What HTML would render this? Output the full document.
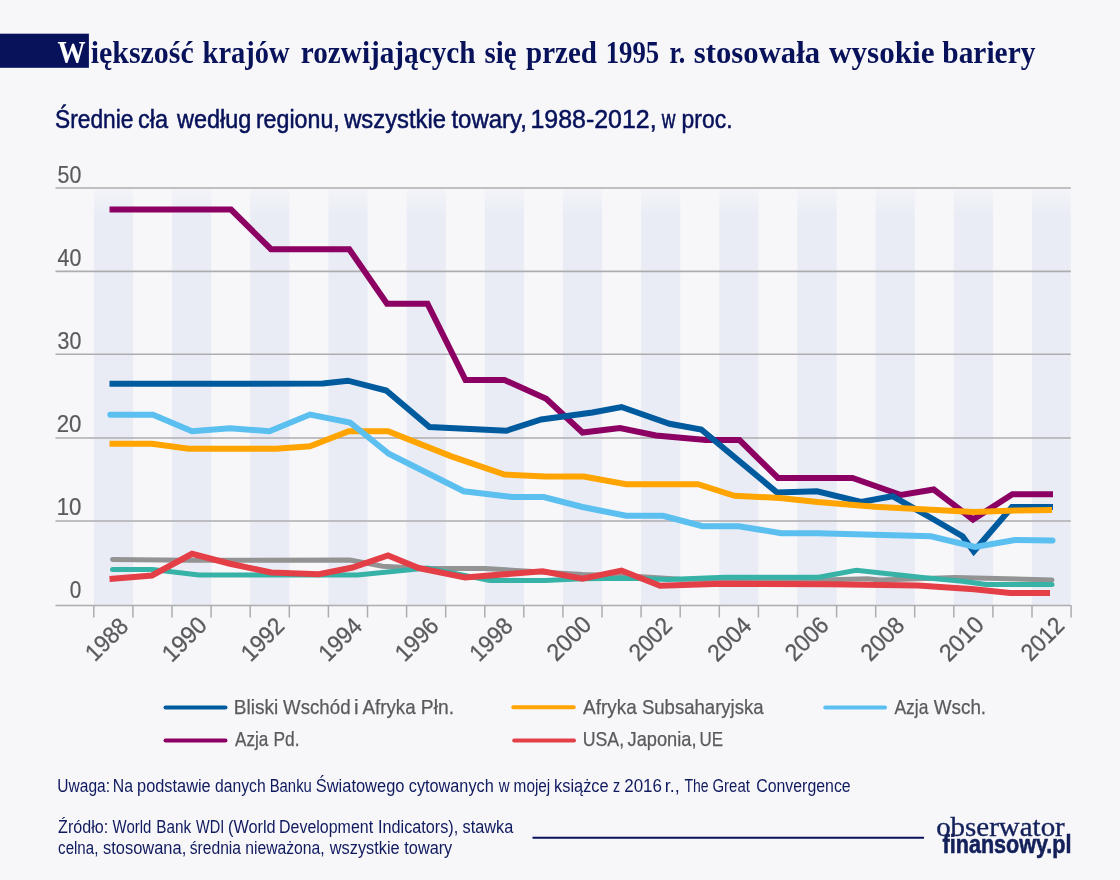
<!DOCTYPE html>
<html lang="pl"><head><meta charset="utf-8"><title>Większość krajów rozwijających się przed 1995 r. stosowała wysokie bariery</title>
<style>
html,body{margin:0;padding:0;background:#f7f7fa;}
body{width:1120px;height:880px;overflow:hidden;}
svg{display:block;}
.sans{font-family:"Liberation Sans",sans-serif;}
.serif{font-family:"Liberation Serif",serif;}
</style></head><body>
<svg width="1120" height="880" viewBox="0 0 1120 880">
<defs><linearGradient id="sg" x1="0" y1="0" x2="0" y2="1" gradientUnits="objectBoundingBox">
<stop offset="0" stop-color="#e9ecf5" stop-opacity="0.25"/><stop offset="0.065" stop-color="#e9ecf5" stop-opacity="1"/><stop offset="1" stop-color="#e9ecf5" stop-opacity="1"/>
</linearGradient></defs>
<rect x="0" y="0" width="1120" height="880" fill="#f7f7fa"/>
<rect x="0" y="33.7" width="88.9" height="34.1" fill="#07125a"/>
<text class="serif" y="62.6" font-size="30.8" font-weight="700" fill="#07125a"><tspan x="57.50" textLength="28.11" lengthAdjust="spacingAndGlyphs" fill="#ffffff">W</tspan><tspan x="90.70" textLength="103.05" lengthAdjust="spacingAndGlyphs">iększość</tspan> <tspan x="202.60" textLength="87.00" lengthAdjust="spacingAndGlyphs">krajów</tspan> <tspan x="300.80" textLength="174.72" lengthAdjust="spacingAndGlyphs">rozwijających</tspan> <tspan x="484.60" textLength="32.03" lengthAdjust="spacingAndGlyphs">się</tspan> <tspan x="526.00" textLength="70.92" lengthAdjust="spacingAndGlyphs">przed</tspan> <tspan x="605.76" textLength="53.48" lengthAdjust="spacingAndGlyphs">1995</tspan> <tspan x="669.60" textLength="15.59" lengthAdjust="spacingAndGlyphs">r.</tspan> <tspan x="693.80" textLength="126.30" lengthAdjust="spacingAndGlyphs">stosowała</tspan> <tspan x="828.90" textLength="105.68" lengthAdjust="spacingAndGlyphs">wysokie</tspan> <tspan x="942.30" textLength="93.13" lengthAdjust="spacingAndGlyphs">bariery</tspan></text>
<text class="sans" y="127.5" font-size="25.3" font-weight="400" fill="#07125a" stroke="#07125a" stroke-width="0.5"><tspan x="55.10" textLength="78.36" lengthAdjust="spacingAndGlyphs">Średnie</tspan> <tspan x="138.07" textLength="30.06" lengthAdjust="spacingAndGlyphs">cła</tspan> <tspan x="176.93" textLength="74.46" lengthAdjust="spacingAndGlyphs">według</tspan> <tspan x="255.88" textLength="83.88" lengthAdjust="spacingAndGlyphs">regionu,</tspan> <tspan x="344.14" textLength="101.86" lengthAdjust="spacingAndGlyphs">wszystkie</tspan> <tspan x="451.40" textLength="75.52" lengthAdjust="spacingAndGlyphs">towary,</tspan> <tspan x="530.41" textLength="126.19" lengthAdjust="spacingAndGlyphs">1988-2012,</tspan> <tspan x="661.75" textLength="13.70" lengthAdjust="spacingAndGlyphs">w</tspan> <tspan x="681.59" textLength="50.94" lengthAdjust="spacingAndGlyphs">proc.</tspan></text>
<rect x="93.9" y="189" width="39.2" height="416.3" fill="url(#sg)"/>
<rect x="172.1" y="189" width="39.2" height="416.3" fill="url(#sg)"/>
<rect x="250.2" y="189" width="39.2" height="416.3" fill="url(#sg)"/>
<rect x="328.4" y="189" width="39.2" height="416.3" fill="url(#sg)"/>
<rect x="406.6" y="189" width="39.2" height="416.3" fill="url(#sg)"/>
<rect x="484.8" y="189" width="39.2" height="416.3" fill="url(#sg)"/>
<rect x="562.9" y="189" width="39.2" height="416.3" fill="url(#sg)"/>
<rect x="641.1" y="189" width="39.2" height="416.3" fill="url(#sg)"/>
<rect x="719.3" y="189" width="39.2" height="416.3" fill="url(#sg)"/>
<rect x="797.4" y="189" width="39.2" height="416.3" fill="url(#sg)"/>
<rect x="875.6" y="189" width="39.2" height="416.3" fill="url(#sg)"/>
<rect x="953.8" y="189" width="39.2" height="416.3" fill="url(#sg)"/>
<rect x="1031.9" y="189" width="38.7" height="416.3" fill="url(#sg)"/>
<line x1="55.5" y1="188.00" x2="1070.8" y2="188.00" stroke="#adadaf" stroke-width="1.55"/>
<text class="sans" y="182.9" font-size="23.9" font-weight="400" fill="#5a5a5c" stroke="#5a5a5c" stroke-width="0.2"><tspan x="57.60" textLength="23.76" lengthAdjust="spacingAndGlyphs">50</tspan></text>
<line x1="55.5" y1="271.35" x2="1070.8" y2="271.35" stroke="#adadaf" stroke-width="1.55"/>
<text class="sans" y="266.0" font-size="23.9" font-weight="400" fill="#5a5a5c" stroke="#5a5a5c" stroke-width="0.2"><tspan x="57.60" textLength="23.76" lengthAdjust="spacingAndGlyphs">40</tspan></text>
<line x1="55.5" y1="354.30" x2="1070.8" y2="354.30" stroke="#adadaf" stroke-width="1.55"/>
<text class="sans" y="349.1" font-size="23.9" font-weight="400" fill="#5a5a5c" stroke="#5a5a5c" stroke-width="0.2"><tspan x="57.60" textLength="23.76" lengthAdjust="spacingAndGlyphs">30</tspan></text>
<line x1="55.5" y1="438.00" x2="1070.8" y2="438.00" stroke="#adadaf" stroke-width="1.55"/>
<text class="sans" y="432.2" font-size="23.9" font-weight="400" fill="#5a5a5c" stroke="#5a5a5c" stroke-width="0.2"><tspan x="56.67" textLength="24.70" lengthAdjust="spacingAndGlyphs">20</tspan></text>
<line x1="55.5" y1="521.00" x2="1070.8" y2="521.00" stroke="#adadaf" stroke-width="1.55"/>
<text class="sans" y="515.3" font-size="23.9" font-weight="400" fill="#5a5a5c" stroke="#5a5a5c" stroke-width="0.2"><tspan x="56.67" textLength="24.70" lengthAdjust="spacingAndGlyphs">10</tspan></text>
<line x1="55.5" y1="605.40" x2="1070.8" y2="605.40" stroke="#adadaf" stroke-width="1.55"/>
<text class="sans" y="598.4" font-size="23.9" font-weight="400" fill="#5a5a5c" stroke="#5a5a5c" stroke-width="0.2"><tspan x="69.80" textLength="11.55" lengthAdjust="spacingAndGlyphs">0</tspan></text>
<line x1="93.8" y1="605.3" x2="93.8" y2="617.5" stroke="#adadaf" stroke-width="1.5"/>
<line x1="132.9" y1="605.3" x2="132.9" y2="617.5" stroke="#adadaf" stroke-width="1.5"/>
<line x1="172.0" y1="605.3" x2="172.0" y2="617.5" stroke="#adadaf" stroke-width="1.5"/>
<line x1="211.1" y1="605.3" x2="211.1" y2="617.5" stroke="#adadaf" stroke-width="1.5"/>
<line x1="250.2" y1="605.3" x2="250.2" y2="617.5" stroke="#adadaf" stroke-width="1.5"/>
<line x1="289.3" y1="605.3" x2="289.3" y2="617.5" stroke="#adadaf" stroke-width="1.5"/>
<line x1="328.4" y1="605.3" x2="328.4" y2="617.5" stroke="#adadaf" stroke-width="1.5"/>
<line x1="367.5" y1="605.3" x2="367.5" y2="617.5" stroke="#adadaf" stroke-width="1.5"/>
<line x1="406.6" y1="605.3" x2="406.6" y2="617.5" stroke="#adadaf" stroke-width="1.5"/>
<line x1="445.7" y1="605.3" x2="445.7" y2="617.5" stroke="#adadaf" stroke-width="1.5"/>
<line x1="484.8" y1="605.3" x2="484.8" y2="617.5" stroke="#adadaf" stroke-width="1.5"/>
<line x1="523.8" y1="605.3" x2="523.8" y2="617.5" stroke="#adadaf" stroke-width="1.5"/>
<line x1="562.9" y1="605.3" x2="562.9" y2="617.5" stroke="#adadaf" stroke-width="1.5"/>
<line x1="602.0" y1="605.3" x2="602.0" y2="617.5" stroke="#adadaf" stroke-width="1.5"/>
<line x1="641.1" y1="605.3" x2="641.1" y2="617.5" stroke="#adadaf" stroke-width="1.5"/>
<line x1="680.2" y1="605.3" x2="680.2" y2="617.5" stroke="#adadaf" stroke-width="1.5"/>
<line x1="719.3" y1="605.3" x2="719.3" y2="617.5" stroke="#adadaf" stroke-width="1.5"/>
<line x1="758.4" y1="605.3" x2="758.4" y2="617.5" stroke="#adadaf" stroke-width="1.5"/>
<line x1="797.5" y1="605.3" x2="797.5" y2="617.5" stroke="#adadaf" stroke-width="1.5"/>
<line x1="836.6" y1="605.3" x2="836.6" y2="617.5" stroke="#adadaf" stroke-width="1.5"/>
<line x1="875.7" y1="605.3" x2="875.7" y2="617.5" stroke="#adadaf" stroke-width="1.5"/>
<line x1="914.7" y1="605.3" x2="914.7" y2="617.5" stroke="#adadaf" stroke-width="1.5"/>
<line x1="953.8" y1="605.3" x2="953.8" y2="617.5" stroke="#adadaf" stroke-width="1.5"/>
<line x1="992.9" y1="605.3" x2="992.9" y2="617.5" stroke="#adadaf" stroke-width="1.5"/>
<line x1="1032.0" y1="605.3" x2="1032.0" y2="617.5" stroke="#adadaf" stroke-width="1.5"/>
<line x1="1071.1" y1="605.3" x2="1071.1" y2="617.5" stroke="#adadaf" stroke-width="1.5"/>
<text class="sans" transform="translate(129.77,627.77) rotate(-45)" x="0" y="0" font-size="24" fill="#5a5a5c" stroke="#5a5a5c" stroke-width="0.3" text-anchor="end" textLength="49.21" lengthAdjust="spacingAndGlyphs">1988</text>
<text class="sans" transform="translate(208.38,626.69) rotate(-45)" x="0" y="0" font-size="24" fill="#5a5a5c" stroke="#5a5a5c" stroke-width="0.3" text-anchor="end" textLength="51.77" lengthAdjust="spacingAndGlyphs">1990</text>
<text class="sans" transform="translate(285.85,627.44) rotate(-45)" x="0" y="0" font-size="24" fill="#5a5a5c" stroke="#5a5a5c" stroke-width="0.3" text-anchor="end" textLength="49.81" lengthAdjust="spacingAndGlyphs">1992</text>
<text class="sans" transform="translate(363.44,627.60) rotate(-45)" x="0" y="0" font-size="24" fill="#5a5a5c" stroke="#5a5a5c" stroke-width="0.3" text-anchor="end" textLength="49.75" lengthAdjust="spacingAndGlyphs">1994</text>
<text class="sans" transform="translate(440.27,627.26) rotate(-45)" x="0" y="0" font-size="24" fill="#5a5a5c" stroke="#5a5a5c" stroke-width="0.3" text-anchor="end" textLength="50.36" lengthAdjust="spacingAndGlyphs">1996</text>
<text class="sans" transform="translate(514.32,627.59) rotate(-45)" x="0" y="0" font-size="24" fill="#5a5a5c" stroke="#5a5a5c" stroke-width="0.3" text-anchor="end" textLength="49.58" lengthAdjust="spacingAndGlyphs">1998</text>
<text class="sans" transform="translate(592.86,625.84) rotate(-45)" x="0" y="0" font-size="24" fill="#5a5a5c" stroke="#5a5a5c" stroke-width="0.3" text-anchor="end" textLength="51.56" lengthAdjust="spacingAndGlyphs">2000</text>
<text class="sans" transform="translate(673.58,627.23) rotate(-45)" x="0" y="0" font-size="24" fill="#5a5a5c" stroke="#5a5a5c" stroke-width="0.3" text-anchor="end" textLength="49.41" lengthAdjust="spacingAndGlyphs">2002</text>
<text class="sans" transform="translate(752.84,627.01) rotate(-45)" x="0" y="0" font-size="24" fill="#5a5a5c" stroke="#5a5a5c" stroke-width="0.3" text-anchor="end" textLength="50.51" lengthAdjust="spacingAndGlyphs">2004</text>
<text class="sans" transform="translate(830.20,626.75) rotate(-45)" x="0" y="0" font-size="24" fill="#5a5a5c" stroke="#5a5a5c" stroke-width="0.3" text-anchor="end" textLength="50.19" lengthAdjust="spacingAndGlyphs">2006</text>
<text class="sans" transform="translate(905.75,626.99) rotate(-45)" x="0" y="0" font-size="24" fill="#5a5a5c" stroke="#5a5a5c" stroke-width="0.3" text-anchor="end" textLength="50.00" lengthAdjust="spacingAndGlyphs">2008</text>
<text class="sans" transform="translate(985.51,626.19) rotate(-45)" x="0" y="0" font-size="24" fill="#5a5a5c" stroke="#5a5a5c" stroke-width="0.3" text-anchor="end" textLength="51.78" lengthAdjust="spacingAndGlyphs">2010</text>
<text class="sans" transform="translate(1065.93,626.99) rotate(-45)" x="0" y="0" font-size="24" fill="#5a5a5c" stroke="#5a5a5c" stroke-width="0.3" text-anchor="end" textLength="49.90" lengthAdjust="spacingAndGlyphs">2012</text>
<polyline fill="none" stroke="#939393" stroke-width="5" stroke-linecap="round" stroke-linejoin="miter" stroke-miterlimit="10" points="112.50,559.50 190.00,560.25 350.00,560.00 382.50,566.25 425.00,568.50 485.00,568.50 582.50,574.50 642.00,576.80 680.00,579.20 822.00,580.00 867.50,578.75 880.00,580.00 955.00,577.50 1052.00,580.00"/>
<polyline fill="none" stroke="#36b2a6" stroke-width="5" stroke-linecap="round" stroke-linejoin="miter" stroke-miterlimit="10" points="112.50,569.50 152.50,569.50 198.75,575.00 357.50,575.00 427.50,568.00 490.00,580.50 545.00,580.50 582.50,578.75 630.00,578.20 667.50,579.50 725.00,577.20 818.75,577.20 856.25,570.25 922.50,577.50 962.50,581.25 986.00,584.50 1052.00,584.50"/>
<polyline fill="none" stroke="#8b0062" stroke-width="6" stroke-linecap="square" stroke-linejoin="miter" stroke-miterlimit="10" points="112.50,209.50 231.00,209.50 271.00,249.25 349.25,249.25 387.00,303.75 427.50,303.75 465.50,380.00 504.50,380.00 546.25,398.75 582.50,432.50 620.00,428.00 656.00,435.50 706.00,440.00 739.50,440.00 778.00,478.00 852.50,478.00 901.00,495.00 933.75,489.50 973.00,519.50 1012.40,494.25 1050.00,494.25"/>
<polyline fill="none" stroke="#005a9e" stroke-width="6" stroke-linecap="square" stroke-linejoin="miter" stroke-miterlimit="10" points="112.50,383.75 322.90,383.60 347.90,380.70 386.25,390.50 429.50,427.00 506.25,430.75 541.25,419.50 592.50,412.50 621.50,407.00 669.50,423.75 701.25,429.50 777.00,492.50 817.00,491.25 861.00,502.00 892.50,496.25 932.50,518.75 962.50,536.25 973.75,551.50 1012.00,507.00 1050.00,507.00"/>
<polyline fill="none" stroke="#ffa400" stroke-width="6" stroke-linecap="square" stroke-linejoin="miter" stroke-miterlimit="10" points="112.50,443.75 152.00,443.75 188.75,448.75 276.00,448.75 310.00,446.25 348.75,431.25 388.00,431.25 451.40,456.40 504.50,474.50 545.00,476.50 583.75,476.50 626.00,484.25 698.00,484.25 734.50,495.75 780.00,498.00 817.50,502.00 875.00,506.75 973.75,512.00 1015.00,510.50 1049.00,510.00"/>
<polyline fill="none" stroke="#5bbff0" stroke-width="6" stroke-linecap="round" stroke-linejoin="miter" stroke-miterlimit="10" points="110.30,414.75 153.00,414.75 192.00,431.25 230.00,428.25 269.50,431.25 310.00,414.50 350.00,422.50 388.75,453.75 463.75,491.25 512.50,497.00 543.75,497.00 582.50,507.00 626.00,515.75 663.00,515.75 702.50,526.25 738.75,526.25 781.25,533.25 817.50,533.25 931.00,536.25 975.00,547.00 1015.00,540.00 1052.50,540.50"/>
<polyline fill="none" stroke="#e43e47" stroke-width="6" stroke-linecap="square" stroke-linejoin="miter" stroke-miterlimit="10" points="112.50,578.75 152.00,575.50 192.00,553.75 230.00,563.75 271.25,572.50 318.75,574.25 352.50,567.50 388.00,555.50 418.75,568.00 465.00,577.50 542.50,571.25 582.50,578.75 621.50,570.50 660.00,585.75 722.50,583.75 830.00,584.20 918.00,585.60 974.00,589.20 1010.00,593.00 1047.00,593.00"/>
<line x1="165.5" y1="707.5" x2="225.5" y2="707.5" stroke="#005a9e" stroke-width="4" stroke-linecap="round"/>
<text class="sans" y="713.6" font-size="20.8" font-weight="400" fill="#5a5a5c" stroke="#5a5a5c" stroke-width="0.25"><tspan x="233.79" textLength="44.38" lengthAdjust="spacingAndGlyphs">Bliski</tspan> <tspan x="283.10" textLength="67.41" lengthAdjust="spacingAndGlyphs">Wschód</tspan> <tspan x="353.90" textLength="4.62" lengthAdjust="spacingAndGlyphs">i</tspan> <tspan x="362.40" textLength="53.21" lengthAdjust="spacingAndGlyphs">Afryka</tspan> <tspan x="420.87" textLength="33.17" lengthAdjust="spacingAndGlyphs">Płn.</tspan></text>
<line x1="165.5" y1="740.5" x2="225.5" y2="740.5" stroke="#8b0062" stroke-width="4" stroke-linecap="round"/>
<text class="sans" y="746.2" font-size="20.8" font-weight="400" fill="#5a5a5c" stroke="#5a5a5c" stroke-width="0.25"><tspan x="235.00" textLength="33.39" lengthAdjust="spacingAndGlyphs">Azja</tspan> <tspan x="273.41" textLength="26.07" lengthAdjust="spacingAndGlyphs">Pd.</tspan></text>
<line x1="513.3" y1="707.2" x2="573.7" y2="707.2" stroke="#ffa400" stroke-width="4" stroke-linecap="round"/>
<text class="sans" y="713.6" font-size="20.8" font-weight="400" fill="#5a5a5c" stroke="#5a5a5c" stroke-width="0.25"><tspan x="583.10" textLength="53.61" lengthAdjust="spacingAndGlyphs">Afryka</tspan> <tspan x="641.90" textLength="121.71" lengthAdjust="spacingAndGlyphs">Subsaharyjska</tspan></text>
<line x1="514.2" y1="740.4" x2="574.0" y2="740.4" stroke="#e43e47" stroke-width="4" stroke-linecap="round"/>
<text class="sans" y="746.2" font-size="20.8" font-weight="400" fill="#5a5a5c" stroke="#5a5a5c" stroke-width="0.25"><tspan x="582.75" textLength="41.37" lengthAdjust="spacingAndGlyphs">USA,</tspan> <tspan x="627.50" textLength="69.06" lengthAdjust="spacingAndGlyphs">Japonia,</tspan> <tspan x="699.59" textLength="23.52" lengthAdjust="spacingAndGlyphs">UE</tspan></text>
<line x1="825.25" y1="707.5" x2="885" y2="707.5" stroke="#5bbff0" stroke-width="4" stroke-linecap="round"/>
<text class="sans" y="713.6" font-size="20.8" font-weight="400" fill="#5a5a5c" stroke="#5a5a5c" stroke-width="0.25"><tspan x="894.50" textLength="33.89" lengthAdjust="spacingAndGlyphs">Azja</tspan> <tspan x="933.75" textLength="52.36" lengthAdjust="spacingAndGlyphs">Wsch.</tspan></text>
<text class="sans" y="792.3" font-size="17.5" font-weight="400" fill="#101a5e"><tspan x="57.36" textLength="52.65" lengthAdjust="spacingAndGlyphs">Uwaga:</tspan> <tspan x="112.85" textLength="20.16" lengthAdjust="spacingAndGlyphs">Na</tspan> <tspan x="137.07" textLength="73.62" lengthAdjust="spacingAndGlyphs">podstawie</tspan> <tspan x="215.00" textLength="50.66" lengthAdjust="spacingAndGlyphs">danych</tspan> <tspan x="269.65" textLength="42.22" lengthAdjust="spacingAndGlyphs">Banku</tspan> <tspan x="315.75" textLength="88.69" lengthAdjust="spacingAndGlyphs">Światowego</tspan> <tspan x="408.75" textLength="84.93" lengthAdjust="spacingAndGlyphs">cytowanych</tspan> <tspan x="498.86" textLength="10.83" lengthAdjust="spacingAndGlyphs">w</tspan> <tspan x="513.62" textLength="36.65" lengthAdjust="spacingAndGlyphs">mojej</tspan> <tspan x="554.06" textLength="54.62" lengthAdjust="spacingAndGlyphs">książce</tspan> <tspan x="613.00" textLength="7.11" lengthAdjust="spacingAndGlyphs">z</tspan> <tspan x="624.25" textLength="37.71" lengthAdjust="spacingAndGlyphs">2016</tspan> <tspan x="664.73" textLength="14.90" lengthAdjust="spacingAndGlyphs">r.,</tspan> <tspan x="684.50" textLength="24.09" lengthAdjust="spacingAndGlyphs">The</tspan> <tspan x="712.50" textLength="37.38" lengthAdjust="spacingAndGlyphs">Great</tspan> <tspan x="756.25" textLength="94.41" lengthAdjust="spacingAndGlyphs">Convergence</tspan></text>
<text class="sans" y="832.6" font-size="17.5" font-weight="400" fill="#101a5e"><tspan x="58.10" textLength="50.09" lengthAdjust="spacingAndGlyphs">Źródło:</tspan> <tspan x="112.60" textLength="38.73" lengthAdjust="spacingAndGlyphs">World</tspan> <tspan x="156.22" textLength="34.96" lengthAdjust="spacingAndGlyphs">Bank</tspan> <tspan x="196.10" textLength="28.22" lengthAdjust="spacingAndGlyphs">WDI</tspan> <tspan x="227.97" textLength="47.71" lengthAdjust="spacingAndGlyphs">(World</tspan> <tspan x="279.09" textLength="93.99" lengthAdjust="spacingAndGlyphs">Development</tspan> <tspan x="378.07" textLength="80.12" lengthAdjust="spacingAndGlyphs">Indicators),</tspan> <tspan x="462.60" textLength="50.75" lengthAdjust="spacingAndGlyphs">stawka</tspan></text>
<text class="sans" y="854.4" font-size="17.5" font-weight="400" fill="#101a5e"><tspan x="58.10" textLength="40.24" lengthAdjust="spacingAndGlyphs">celna,</tspan> <tspan x="103.10" textLength="83.11" lengthAdjust="spacingAndGlyphs">stosowana,</tspan> <tspan x="189.70" textLength="51.36" lengthAdjust="spacingAndGlyphs">średnia</tspan> <tspan x="245.20" textLength="79.47" lengthAdjust="spacingAndGlyphs">nieważona,</tspan> <tspan x="329.83" textLength="69.75" lengthAdjust="spacingAndGlyphs">wszystkie</tspan> <tspan x="404.30" textLength="47.97" lengthAdjust="spacingAndGlyphs">towary</tspan></text>
<line x1="532.5" y1="837.8" x2="924" y2="837.8" stroke="#07125a" stroke-width="2"/>
<text class="serif" y="836.3" font-size="27.5" font-weight="400" fill="#13205a" stroke="#13205a" stroke-width="0.35"><tspan x="936.15" textLength="128.62" lengthAdjust="spacingAndGlyphs">obserwator</tspan></text>
<text class="sans" y="852.9" font-size="25.5" font-weight="700" fill="#13205a" stroke="#13205a" stroke-width="0.6"><tspan x="942.60" textLength="128.82" lengthAdjust="spacingAndGlyphs">finansowy.pl</tspan></text>
</svg></body></html>
